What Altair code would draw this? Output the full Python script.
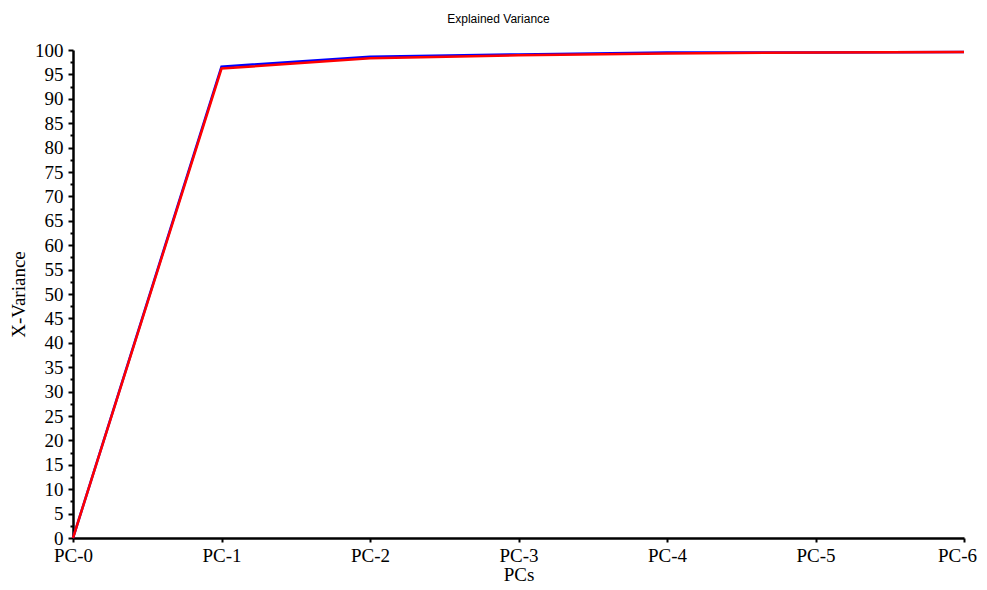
import altair as alt
import pandas as pd

pcs = [0, 1, 2, 3, 4, 5, 6]
blue_series = [0.0, 96.6, 98.6, 99.1, 99.5, 99.5, 99.6]
red_series = [0.0, 96.2, 98.3, 98.9, 99.3, 99.5, 99.6]
series_names = ["Calibration", "Validation"]
series_colors = ["#0000ff", "#ff0000"]

rows = []
for name, vals in zip(series_names, [blue_series, red_series]):
    for p, v in zip(pcs, vals):
        rows.append({"pc": p, "value": v, "series": name})
df = pd.DataFrame(rows)

y_ticks = [i * 2.5 for i in range(41)]

chart = alt.Chart(df).mark_line(strokeWidth=2.5).encode(
    x=alt.X("pc:Q",
            scale=alt.Scale(domain=[0, 6], nice=False),
            axis=alt.Axis(title="PCs", values=pcs, labelExpr="'PC-' + datum.value",
                          grid=False, labelFlush=False, tickSize=4, tickWidth=2,
                          labelOffset={"condition": {"test": "datum.value == 6", "value": -7}, "value": 0},
                          domainWidth=2.5, domainColor="black", tickColor="black",
                          labelFont="Liberation Serif", labelFontSize=19, labelColor="black",
                          titleFont="Liberation Serif", titleFontSize=19, titleFontWeight="normal",
                          titleColor="black", labelPadding=4, titlePadding=0)),
    y=alt.Y("value:Q",
            scale=alt.Scale(domain=[0, 100], nice=False),
            axis=alt.Axis(title="X-Variance", values=y_ticks,
                          labelExpr="datum.value % 5 == 0 ? datum.label : ''",
                          labelOverlap=False, grid=False,
                          tickSize={"condition": {"test": "datum.value % 5 != 0", "value": 3}, "value": 5},
                          tickWidth=2, domainWidth=2.5, domainColor="black", tickColor="black",
                          labelFont="Liberation Serif", labelFontSize=19, labelColor="black",
                          titleFont="Liberation Serif", titleFontSize=19, titleFontWeight="normal",
                          titleColor="black", labelPadding=5, titlePadding=6)),
    color=alt.Color("series:N", scale=alt.Scale(domain=series_names, range=series_colors), legend=None),
    order=alt.Order("series:N"),
).properties(
    width=891,
    height=488,
    title=alt.TitleParams("Explained Variance", font="Liberation Sans", fontSize=12,
                          fontWeight="normal", color="black", anchor="middle", dx=-20, offset=15),
    autosize=alt.AutoSizeParams(type="none"),
    padding={"left": 65, "top": 42, "right": 15, "bottom": 44},
).configure_view(stroke=None)

chart.save("out.html", embed_options={"renderer": "svg", "actions": False})
